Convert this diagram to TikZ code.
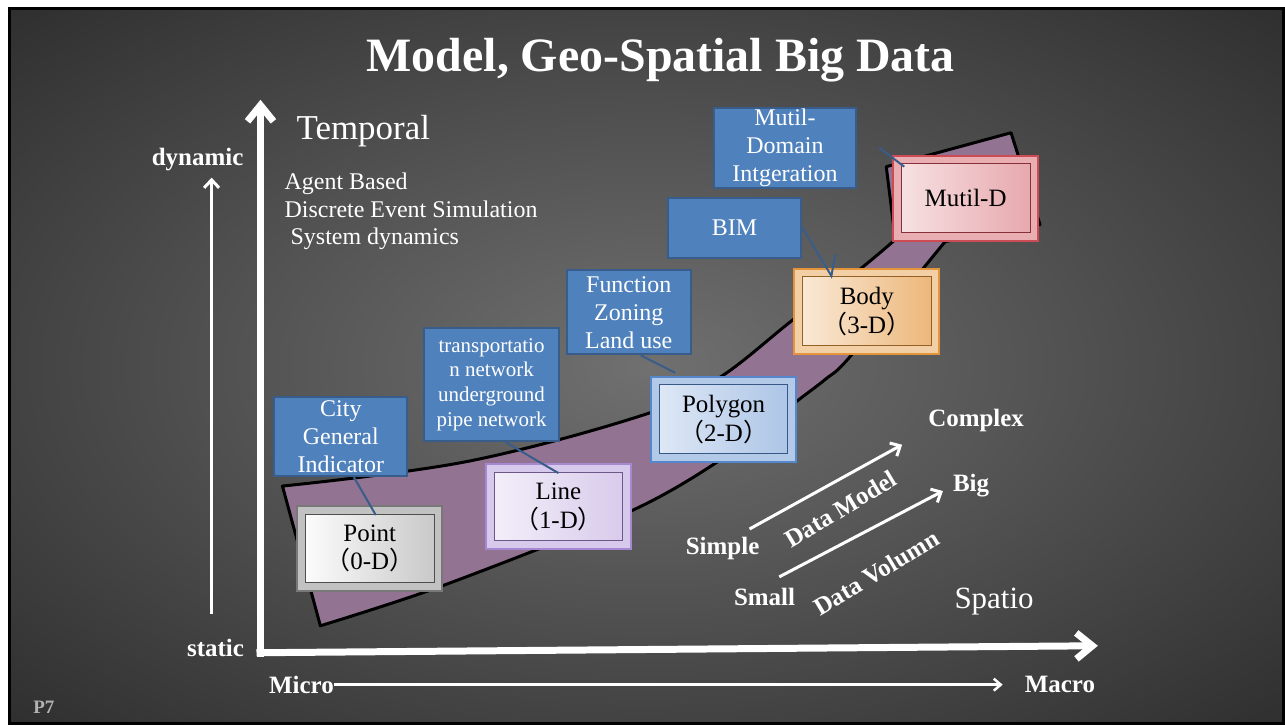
\documentclass[tikz,border=0pt]{standalone}
\usepackage{fontspec}
\setmainfont{Liberation Serif}
\newfontfamily\cjk{Noto Sans CJK SC}
\usepackage{tikz}
\usetikzlibrary{positioning, arrows.meta}
\definecolor{slide-mid}{RGB}{112,112,112}
\definecolor{slide-edge}{RGB}{24,24,24}
\definecolor{band-purple}{RGB}{146,116,146}
\definecolor{note-blue}{RGB}{79,129,189}
\definecolor{note-edge}{RGB}{56,93,138}
\definecolor{point-gray}{RGB}{120,120,120}
\definecolor{line-purple}{RGB}{165,135,210}
\definecolor{poly-blue}{RGB}{85,135,205}
\definecolor{body-orange}{RGB}{228,148,58}
\definecolor{multi-red}{RGB}{205,75,85}
\pgfdeclareradialshading{slideglow}{\pgfpoint{0bp}{0bp}}{color(0bp)=(slide-mid); color(48bp)=(slide-edge); color(75bp)=(slide-edge)}

\begin{document}
\begin{tikzpicture}[x=1pt, y=-1pt]
	\tikzset{dimbox/.style n args={3}{draw=#1, line width=2pt, fill=#1!45!white, minimum width=145pt, minimum height=85pt, inner sep=0pt, align=center, font=\fontsize{25}{29}\selectfont,
		path picture={\draw[#1!65!black, line width=1pt, left color=#2, right color=#3] ([shift={(8pt,-8pt)}]path picture bounding box.north west) rectangle ([shift={(-8pt,8pt)}]path picture bounding box.south east);}}}
	\tikzset{note/.style={draw=note-edge, line width=2pt, fill=note-blue, text=white, align=center, inner sep=0pt, font=\fontsize{24}{28}\selectfont}}
	\tikzset{pointer/.style={draw=note-edge, line width=2pt}}
	\tikzset{tag/.style={text=white, inner sep=0pt, font=\fontsize{25}{29}\selectfont\bfseries}}
	\tikzset{axis/.style={white, line width=7pt, -{Straight Barb[length=16pt, width=26pt]}}}
	\tikzset{arr/.style={white, line width=3pt, -{Straight Barb[length=8pt, width=15pt]}}}
	% slide
	\fill[white] (0,0) rectangle (1285,724);
	\shade[shading=slideglow, draw=black, line width=3pt] (9.5,8.5) rectangle (1286,725);
	\node[text=white, font=\fontsize{48}{52}\selectfont\bfseries] (title) at (662,60) {Model, Geo-Spatial Big Data};
	\node[text=gray!60, inner sep=0pt, font=\fontsize{19}{22}\selectfont\bfseries] (page) at (44,709) {P7};
	% band
	\draw[fill=band-purple, line width=3pt, line join=round]
		plot[smooth, tension=0.6] coordinates {(283,487) (470,462) (653,413) (723,377) (795,320) (860,271) (897,240)}
		-- (888,167) -- (1013,133) -- (1042,225) -- (947,242)
		-- plot[smooth, tension=0.5] coordinates {(947,242) (852,357) (827,380) (797,403) (723,460) (630,513) (443,587) (321,627)}
		-- cycle;
	% axes
	\coordinate (origin) at (261,658);
	\coordinate (time top) at (261,100);
	\coordinate (space end) at (1100,647);
	\draw[axis] (origin) -- (time top);
	\draw[axis] (257,654) -- (space end);
	\node[text=white, inner sep=0pt, font=\fontsize{35}{40}\selectfont] (temporal) at (364,131) {Temporal};
	\node[text=white, inner sep=0pt, font=\fontsize{31}{36}\selectfont] (spatio) at (996,603) {Spatio};
	\node[text=white, inner sep=0pt, anchor=base west, font=\fontsize{24}{28}\selectfont] (agent) at (285,190) {Agent Based};
	\node[text=white, inner sep=0pt, anchor=base west, font=\fontsize{24}{28}\selectfont] (discrete) at (285,218) {Discrete Event Simulation};
	\node[text=white, inner sep=0pt, anchor=base west, font=\fontsize{24}{28}\selectfont] (sysdyn) at (291,245) {System dynamics};
	\node[tag] (dynamic) at (198,160) {dynamic};
	\node[tag] (static) at (216,649) {static};
	\coordinate (static top) at (212,615);
	\coordinate (dynamic tip) at (212,178);
	\draw[arr] (static top) -- (dynamic tip);
	\node[tag] (micro) at (302,686) {Micro};
	\node[tag] (macro) at (1062,686) {Macro};
	\draw[white, line width=2.5pt, -{Straight Barb[length=7pt, width=12pt]}] (micro.east) -- ([xshift=-22pt]macro.west);
	% data axes
	\node[tag] (simple) at (724,550) {Simple};
	\node[tag] (complex) at (978,421) {Complex};
	\node[tag] (small) at (766,598) {Small};
	\node[tag] (big) at (973,487) {Big};
	\draw[arr] ([shift={(-10pt,20pt)}]simple.east) -- ([shift={(-26pt,-13pt)}]complex.south west);
	\draw[arr] ([shift={(-16pt,20pt)}]small.east) -- ([shift={(-10pt,-5pt)}]big.west);
	\node[tag, rotate=31] (data model) at (842,510) {Data Model};
	\node[tag, rotate=31] (data volumn) at (878,574) {Data Volumn};
	% dimensions
	\node[dimbox={point-gray}{white}{gray!45}] (point) at (370.5,549.5) {Point\\{\cjk（}0-D{\cjk）}};
	\node[dimbox={line-purple}{line-purple!12}{line-purple!45}] (line) at (559.5,507.5) {Line\\{\cjk（}1-D{\cjk）}};
	\node[dimbox={poly-blue}{poly-blue!18}{poly-blue!50}] (polygon) at (725,420) {Polygon\\{\cjk（}2-D{\cjk）}};
	\node[dimbox={body-orange}{body-orange!18}{body-orange!70}] (body) at (868.5,312) {Body\\{\cjk（}3-D{\cjk）}};
	\node[dimbox={multi-red}{multi-red!15}{multi-red!50}] (multi) at (967.5,198.5) {Mutil-D};
	% notes
	\node[note, minimum width=133pt, minimum height=79pt] (city) at (341.5,437.5) {City\\General\\Indicator};
	\node[note, minimum width=135pt, minimum height=113pt, font=\fontsize{21}{25}\selectfont] (transport) at (492.5,385.5) {transportatio\\n network\\underground\\pipe network};
	\node[note, minimum width=124pt, minimum height=84pt] (function) at (630,313) {Function\\Zoning\\Land use};
	\node[note, minimum width=134pt, minimum height=60pt] (bim) at (736,228) {BIM};
	\node[note, minimum width=143pt, minimum height=80pt] (domain) at (786.5,148) {Mutil-\\Domain\\Intgeration};
	\draw[pointer] ([xshift=13pt]city.south) -- ([shift={(6pt,-10pt)}]point.north);
	\draw[pointer] ([xshift=14pt]transport.south) -- ([shift={(0pt,-10pt)}]line.north);
	\draw[pointer] ([xshift=12pt]function.south) -- ([shift={(25pt,3pt)}]polygon.north west);
	\draw[pointer] (bim.east) -- ([shift={(38pt,-8pt)}]body.north west) -- ([shift={(42pt,14pt)}]body.north west);
	\draw[pointer] ([xshift=22pt]domain.east) -- ([shift={(12pt,-12pt)}]multi.north west);
\end{tikzpicture}
\end{document}
